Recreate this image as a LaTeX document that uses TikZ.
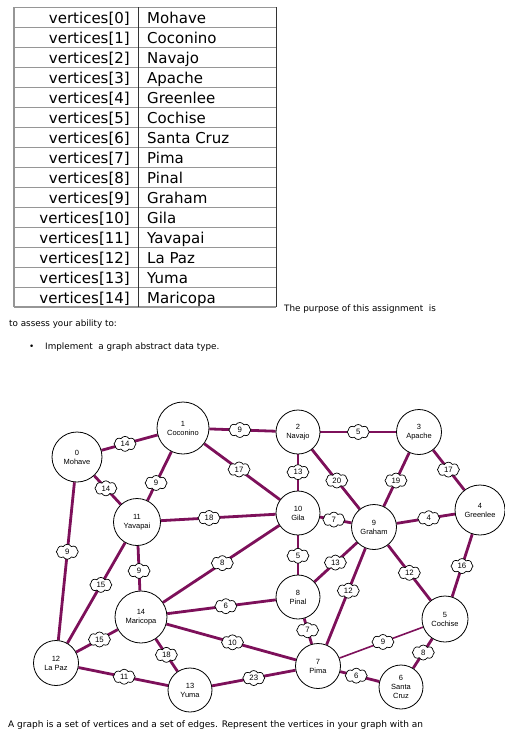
\documentclass[tikz,border=0pt]{standalone}
\usepackage{fontspec}
\setmainfont{DejaVu Sans}
\newfontfamily\arialf{Liberation Sans}
\usetikzlibrary{shapes.symbols}
\definecolor{edgec}{RGB}{125,16,90}
\definecolor{tgray}{RGB}{150,150,150}
\pgfdeclarelayer{bg}
\pgfsetlayers{bg,main}
\begin{document}
\begin{tikzpicture}[x=1pt,y=-1pt,
  vtx/.style={circle,draw=black,line width=0.8pt,fill=white,inner sep=0pt,align=center,font=\arialf\fontsize{7.5}{9}\selectfont},
  wt/.style={cloud,cloud puffs=8,cloud puff arc=120,aspect=1.5,draw=black,line width=0.7pt,fill=white,inner sep=0pt,minimum width=22pt,minimum height=15pt,font=\arialf\fontsize{7.8}{8}\selectfont},
  edg/.style={draw=edgec,line width=2.8pt},
  edgthin/.style={draw=edgec,line width=1.6pt},
  cellL/.style={anchor=base east,font=\fontsize{15}{18}\selectfont,inner sep=0pt},
  cellR/.style={anchor=base west,font=\fontsize{15}{18}\selectfont,inner sep=0pt},
  body/.style={anchor=base west,font=\fontsize{8.8}{10}\selectfont,inner sep=0pt}
]
\useasboundingbox (0,0) rectangle (505,729);

% table
\foreach \i in {1,...,14} \draw[tgray,line width=0.9pt] (14,7+20*\i) -- (276,7+20*\i);
\draw[tgray,line width=1pt] (14,7) -- (276,7);
\draw[tgray,line width=1.6pt] (14,307) -- (276,307);
\draw[tgray,line width=1.2pt] (14,7) -- (14,307);
\draw[black!80,line width=0.9pt] (138,7) -- (138,307);
\draw[black!80,line width=1pt] (276,7) -- (276,307);
\foreach \i/\n in {0/Mohave,1/Coconino,2/Navajo,3/Apache,4/Greenlee,5/Cochise,6/Santa Cruz,7/Pima,8/Pinal,9/Graham,10/Gila,11/Yavapai,12/La Paz,13/Yuma,14/Maricopa}{
  \node[cellL] (l\i) at (130,23.5+20*\i) {vertices[\i]};
  \node[cellR] (r\i) at (147,23.5+20*\i) {\n};
}

% body text
\node[body] (t1) at (284,311) {The purpose of this assignment\ \ is};
\node[body] (t2) at (9,326) {to assess your ability to:};
\node[body] (b1) at (29,349.5) {•};
\node[body] (t3) at (45,349.5) {Implement\ \ a graph abstract data type.};
\node[body,font=\fontsize{9}{10}\selectfont] (t4) at (8,727) {A graph is a set of vertices and a set of edges. Represent the vertices in your graph with an};

% vertices
\node[vtx,minimum size=50pt] (v0) at (77,457) {0\\Mohave};
\node[vtx,minimum size=52pt] (v1) at (183,428) {1\\Coconino};
\node[vtx,minimum size=44pt] (v2) at (298,432) {2\\Navajo};
\node[vtx,minimum size=45pt] (v3) at (419,432) {3\\Apache};
\node[vtx,minimum size=50pt] (v4) at (480,510) {4\\Greenlee};
\node[vtx,minimum size=46pt] (v5) at (445,619) {5\\Cochise};
\node[vtx,minimum size=44pt] (v6) at (401,687) {6\\Santa\\Cruz};
\node[vtx,minimum size=45pt] (v7) at (318,666) {7\\Pima};
\node[vtx,minimum size=44pt] (v8) at (298,597) {8\\Pinal};
\node[vtx,minimum size=45pt] (v9) at (374,527) {9\\Graham};
\node[vtx,minimum size=44pt] (v10) at (298,513) {10\\Gila};
\node[vtx,minimum size=47pt] (v11) at (137,522) {11\\Yavapai};
\node[vtx,minimum size=45pt] (v12) at (56,663) {12\\La Paz};
\node[vtx,minimum size=44pt] (v13) at (190,690) {13\\Yuma};
\node[vtx,minimum size=52pt] (v14) at (141,617) {14\\Maricopa};

\begin{pgfonlayer}{bg}
\draw[edg] (v0) -- node[wt,pos=.42]{14} (v1);
\draw[edg] (v0) -- node[wt,pos=.44]{14} (v11);
\draw[edg] (v0) -- node[wt,pos=.44]{9} (v12);
\draw[edg] (v1) -- node[wt,pos=.46]{9} (v2);
\draw[edg] (v1) -- node[wt,pos=.64]{9} (v11);
\draw[edg] (v1) -- node[wt,pos=.46]{17} (v10);
\draw[edg] (v11) -- node[wt,pos=.42]{18} (v10);
\draw[edg] (v11) -- node[wt,pos=.56]{9} (v14);
\draw[edg] (v11) -- node[wt,pos=.42]{15} (v12);
\draw[edg] (v14) -- node[wt,pos=.51]{8} (v10);
\draw[edg] (v2) -- node[wt,pos=.50]{5} (v3);
\draw[edg] (v2) -- node[wt,pos=.49]{13} (v10);
\draw[edg] (v2) -- node[wt,pos=.52]{20} (v9);
\draw[edg] (v3) -- node[wt,pos=.52]{19} (v9);
\draw[edg] (v3) -- node[wt,pos=.49]{17} (v4);
\draw[edg] (v10) -- node[wt,pos=.44]{7} (v9);
\draw[edg] (v9) -- node[wt,pos=.55]{4} (v4);
\draw[edg] (v10) -- node[wt,pos=.52]{5} (v8);
\draw[edg] (v9) -- node[wt,pos=.51]{13} (v8);
\draw[edg] (v4) -- node[wt,pos=.51]{16} (v5);
\draw[edg] (v9) -- node[wt,pos=.50]{12} (v5);
\draw[edg] (v9) -- node[wt,pos=.44]{12} (v7);
\draw[edg] (v14) -- node[wt,pos=.54]{6} (v8);
\draw[edg] (v14) -- node[wt,pos=.44]{15} (v12);
\draw[edg] (v14) -- node[wt,pos=.49]{18} (v13);
\draw[edg] (v14) -- node[wt,pos=.51]{10} (v7);
\draw[edg] (v12) -- node[wt,pos=.51]{11} (v13);
\draw[edg] (v13) -- node[wt,pos=.50]{23} (v7);
\draw[edg] (v8) -- node[wt,pos=.46]{7} (v7);
\draw[edgthin] (v7) -- node[wt,pos=.52]{9} (v5);
\draw[edg] (v7) -- node[wt,pos=.41]{6} (v6);
\draw[edg] (v5) -- node[wt,pos=.47]{8} (v6);
\end{pgfonlayer}
\end{tikzpicture}
\end{document}
